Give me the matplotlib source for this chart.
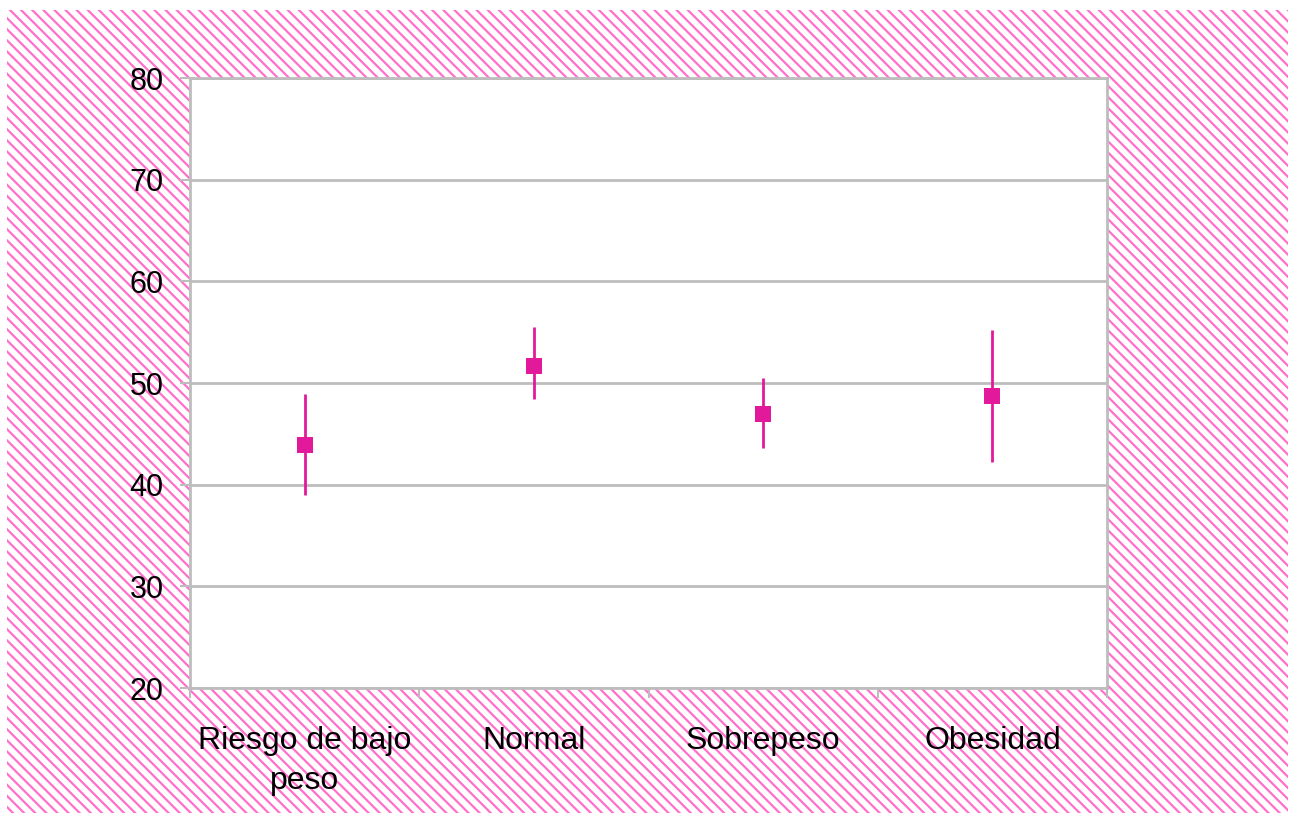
import matplotlib
matplotlib.use("Agg")
import matplotlib.pyplot as plt
from matplotlib.patches import Rectangle

categories = ["Riesgo de bajo\npeso", "Normal", "Sobrepeso", "Obesidad"]
means = [43.9, 51.7, 47.0, 48.7]
err_low = [4.9, 3.3, 3.4, 6.5]
err_high = [5.0, 3.8, 3.5, 6.5]
y_ticks = [20, 30, 40, 50, 60, 70, 80]

pink = "#ff70cc"
magenta = "#e3199b"
grey = "#bdbdbd"

plt.rcParams["font.family"] = ["Liberation Sans", "DejaVu Sans"]
plt.rcParams["hatch.linewidth"] = 1.6
plt.rcParams["hatch.color"] = pink

fig = plt.figure(figsize=(12.96, 8.13), dpi=100, facecolor="white")
bg = Rectangle((7 / 1296, 0.0), 1281 / 1296, 803 / 813, transform=fig.transFigure,
               facecolor="white", edgecolor=pink, hatch="\\\\\\", linewidth=0, zorder=-10)
fig.patches.append(bg)

ax = fig.add_axes([190 / 1296, 1 - 688 / 813, 917 / 1296, 610 / 813])
ax.set_facecolor("white")

x = list(range(len(categories)))
ax.errorbar(x, means, yerr=[err_low, err_high], fmt="s", color=magenta,
            ecolor=magenta, elinewidth=2, capsize=0, markersize=12,
            markeredgewidth=0, zorder=3)

ax.set_xlim(-0.5, len(categories) - 0.5)
ax.set_ylim(20, 80)
ax.set_yticks(y_ticks)
ax.set_xticks(x)
ax.set_xticklabels(categories, fontsize=23, linespacing=1.45)
ax.set_xticks([i - 0.5 for i in range(len(categories) + 1)], minor=True)
ax.tick_params(axis="x", which="major", length=0, pad=27)
ax.tick_params(axis="x", which="minor", length=7, width=1.5, color=grey)
ax.tick_params(axis="y", length=7, width=1.5, color=grey, labelsize=22, pad=12)

ax.grid(axis="y", color=grey, linewidth=2)
ax.set_axisbelow(True)
for s in ax.spines.values():
    s.set_color(grey)
    s.set_linewidth(2)

fig.savefig("out.png", dpi=100, facecolor=fig.get_facecolor())
